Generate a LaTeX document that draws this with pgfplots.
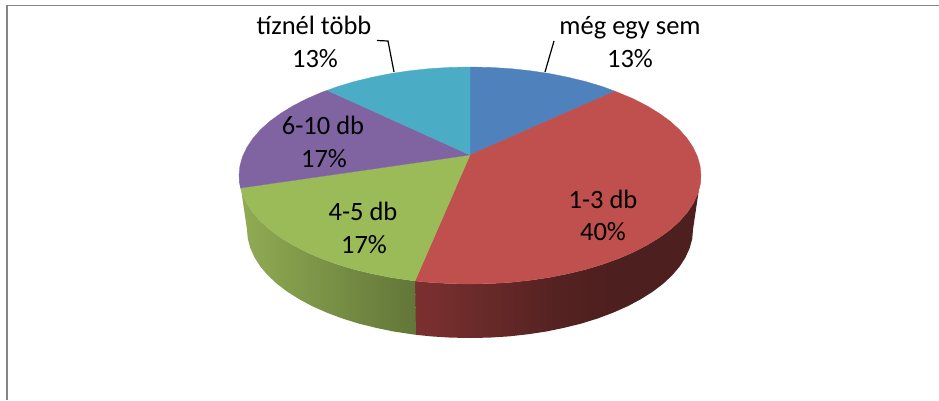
\documentclass[border=0pt]{standalone}
\usepackage{pgfplots}
\pgfplotsset{compat=1.18}
\usepackage{fontspec}
\setmainfont{Carlito}
\definecolor{framegray}{HTML}{868686}
\definecolor{pblue}{HTML}{4F81BD}
\definecolor{pred}{HTML}{C0504D}
\definecolor{pgreen}{HTML}{9BBB59}
\definecolor{ppurple}{HTML}{8064A2}
\definecolor{pteal}{HTML}{4BACC6}
\definecolor{rw1}{HTML}{7C3030}
\definecolor{rw2}{HTML}{542221}
\definecolor{rw3}{HTML}{4D1F1E}
\definecolor{gw1}{HTML}{91AC54}
\definecolor{gw2}{HTML}{627638}
\pgfdeclarehorizontalshading{redwall}{100bp}{
  color(0bp)=(rw1);
  color(25bp)=(rw1);
  color(50bp)=(rw2);
  color(60bp)=(rw3);
  color(100bp)=(rw3)}
\pgfdeclarehorizontalshading{greenwall}{100bp}{
  color(0bp)=(gw1);
  color(25bp)=(gw1);
  color(75bp)=(gw2);
  color(100bp)=(gw2)}
\newcommand{\lab}{\fontsize{26.5}{32}\selectfont}
\begin{document}
\begin{tikzpicture}
\begin{axis}[
  scale only axis, width=939pt, height=400pt,
  xmin=0, xmax=939, ymin=0, ymax=400, y dir=reverse,
  axis line style={draw=none}, ticks=none, clip=true,
  every axis plot/.append style={forget plot, no markers},
  nodes={inner sep=0pt, anchor=base},
]
% frame
\addplot[framegray, line width=1.5pt] coordinates {(7,400) (7,5.5) (939,5.5)};
% red wall
\addplot[draw=none, shading=redwall] coordinates {
(415,281) (429.9,282.4) (449.9,283.6) (470,284) (490.1,283.6) (510.1,282.4) (529.8,280.3) (549,277.5)
(567.6,273.8) (585.5,269.5) (602.5,264.4) (618.5,258.6) (633.3,252.2) (646.9,245.2) (659.2,237.7)
(670.1,229.8) (679.4,221.4) (687.1,212.6) (693.1,203.6) (697.5,194.3) (700.1,185) (701,175.5)
(693,229.5) (692.2,239) (689.6,248.3) (685.4,257.6) (679.6,266.6) (672.1,275.4) (663.1,283.8)
(652.7,291.7) (640.8,299.2) (627.7,306.2) (613.3,312.6) (597.9,318.4) (581.5,323.5) (564.2,327.8)
(546.3,331.5) (527.7,334.3) (508.7,336.4) (489.4,337.6) (470,338) (450.6,337.6) (431.3,336.4)
(416,334.8) (415,281)};
% green wall
\addplot[draw=none, shading=greenwall] coordinates {
(239,175.5) (239.9,185) (240.6,188) (242.5,194.3) (246.9,203.6) (252.9,212.6) (260.6,221.4) (269.9,229.8)
(280.8,237.7) (293.1,245.2) (306.7,252.2) (321.5,258.6) (337.5,264.4) (354.5,269.5) (372.4,273.8)
(391,277.5) (410.2,280.3) (415,281) (416,334.8) (412.3,334.3) (393.7,331.5) (375.8,327.8) (358.5,323.5)
(342.1,318.4) (326.7,312.6) (312.3,306.2) (299.2,299.2) (287.3,291.7) (276.9,283.8) (267.9,275.4)
(260.4,266.6) (254.6,257.6) (250.4,248.3) (247.8,239) (247,229.5) (239,175.5)};
% top faces
\addplot[fill=pblue, draw=pblue, line width=0.3pt] coordinates {
(470,155) (470,67) (490.1,67.4) (510.1,68.6) (529.8,70.7) (549,73.5) (567.6,77.2) (585.5,81.5)
(602.5,86.6) (615,91.2) (470,155)};
\addplot[fill=pred, draw=pred, line width=0.3pt] coordinates {
(470,155) (615,91.2) (633.3,98.8) (646.9,105.8) (659.2,113.3) (670.1,121.2) (679.4,129.6) (687.1,138.4)
(693.1,147.4) (697.5,156.7) (700.1,166) (701,175.5) (700.1,185) (697.5,194.3) (693.1,203.6) (687.1,212.6)
(679.4,221.4) (670.1,229.8) (659.2,237.7) (646.9,245.2) (633.3,252.2) (618.5,258.6) (602.5,264.4)
(585.5,269.5) (567.6,273.8) (549,277.5) (529.8,280.3) (510.1,282.4) (490.1,283.6) (470,284)
(449.9,283.6) (429.9,282.4) (415,281) (470,155)};
\addplot[fill=pgreen, draw=pgreen, line width=0.3pt] coordinates {
(470,155) (415,281) (410.2,280.3) (391,277.5) (372.4,273.8) (354.5,269.5) (337.5,264.4) (321.5,258.6)
(306.7,252.2) (293.1,245.2) (280.8,237.7) (269.9,229.8) (260.6,221.4) (252.9,212.6) (246.9,203.6)
(242.5,194.3) (240.6,188) (470,155)};
\addplot[fill=ppurple, draw=ppurple, line width=0.3pt] coordinates {
(470,155) (240.6,188) (239.9,185) (239,175.5) (239.9,166) (242.5,156.7) (246.9,147.4) (252.9,138.4)
(260.6,129.6) (269.9,121.2) (280.8,113.3) (293.1,105.8) (306.7,98.8) (321.5,92.4) (327.2,90.3) (470,155)};
\addplot[fill=pteal, draw=pteal, line width=0.3pt] coordinates {
(470,155) (327.2,90.3) (337.5,86.6) (354.5,81.5) (372.4,77.2) (391,73.5) (410.2,70.7) (429.9,68.6)
(449.9,67.4) (470,67) (470,155)};
% leader lines
\addplot[black, line width=1.2pt] coordinates {(377,40.5) (388,41) (394,72)};
\addplot[black, line width=1.2pt] coordinates {(554,41) (545,72)};
% labels
\node at (axis cs:314,34) {\lab tíznél több};
\node at (axis cs:315,67) {\lab 13\%};
\node at (axis cs:630,34) {\lab még egy sem};
\node at (axis cs:630,67) {\lab 13\%};
\node at (axis cs:323,134) {\lab 6-10 db};
\node at (axis cs:324,167) {\lab 17\%};
\node at (axis cs:363,220) {\lab 4-5 db};
\node at (axis cs:364,253) {\lab 17\%};
\node at (axis cs:603,208) {\lab 1-3 db};
\node at (axis cs:603,240) {\lab 40\%};
\end{axis}
\end{tikzpicture}
\end{document}
